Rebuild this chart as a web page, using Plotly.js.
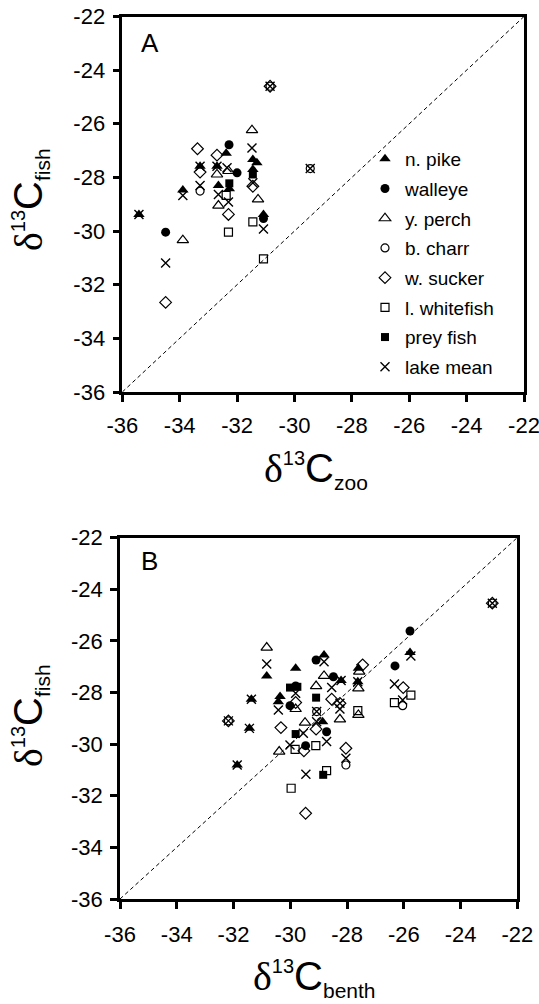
<!DOCTYPE html>
<html>
<head>
<meta charset="utf-8">
<script src="https://cdn.plot.ly/plotly-3.0.1.min.js"></script>
<style>
  html, body { margin: 0; padding: 0; background: #fff; }
  #chart { width: 539px; height: 1004px; }
</style>
</head>
<body>
<div id="chart"></div>
<script>
// ---------- tick labels ----------
const tickVals = [-36, -34, -32, -30, -28, -26, -24, -22];
const tickText = ['-36', '-34', '-32', '-30', '-28', '-26', '-24', '-22'];
const oneToOne = [-36, -22];

const seriesNames = ['n. pike', 'walleye', 'y. perch', 'b. charr', 'w. sucker', 'l. whitefish', 'prey fish', 'lake mean'];

// ---------- Panel A : d13C zoo vs d13C fish ----------
const pikeZooX = [-35.42, -33.89, -33.29, -32.70, -32.65, -32.38, -32.27, -31.45, -31.31, -31.45, -31.08];
const pikeZooY = [-29.38, -28.47, -27.58, -27.58, -28.30, -27.10, -28.42, -27.33, -27.45, -27.70, -29.38];
const walleyeZooX = [-34.49, -32.28, -32.00, -31.08];
const walleyeZooY = [-30.04, -26.78, -27.83, -29.53];
const perchZooX = [-33.89, -32.70, -32.65, -32.30, -31.48, -31.27];
const perchZooY = [-30.34, -27.89, -29.05, -27.76, -26.24, -28.82];
const charrZooX = [-33.29, -29.45, -30.85];
const charrZooY = [-28.51, -27.67, -24.60];
const suckerZooX = [-34.49, -33.38, -33.29, -32.70, -32.30, -31.45, -30.85];
const suckerZooY = [-32.66, -26.93, -27.80, -27.17, -29.38, -28.33, -24.60];
const whitefishZooX = [-32.38, -32.30, -31.45, -31.08];
const whitefishZooY = [-28.67, -30.04, -29.66, -31.04];
const preyZooX = [-32.27, -31.45];
const preyZooY = [-28.22, -27.89];
const meanZooX = [-35.42, -34.49, -33.89, -33.29, -33.29, -32.70, -32.65, -32.35, -32.30, -31.48, -31.45, -31.08, -29.45, -30.85];
const meanZooY = [-29.38, -31.19, -28.67, -27.58, -28.30, -27.58, -28.64, -27.64, -28.92, -26.90, -28.20, -29.92, -27.67, -24.60];

// ---------- Panel B : d13C benth vs d13C fish ----------
const pikeBenX = [-30.83, -29.81, -31.37, -30.36, -30.42, -31.44, -31.87, -28.81, -28.21, -27.60, -25.78, -28.86, -27.62];
const pikeBenY = [-27.36, -27.06, -28.26, -28.16, -28.36, -29.39, -30.81, -26.55, -27.54, -27.06, -26.45, -29.13, -27.58];
const walleyeBenX = [-29.81, -30.01, -29.09, -28.48, -25.78, -26.31, -28.72, -29.46];
const walleyeBenY = [-27.75, -28.51, -26.74, -27.39, -25.62, -26.97, -29.52, -30.06];
const perchBenX = [-30.83, -29.81, -29.48, -28.81, -29.09, -28.25, -27.57, -27.60, -27.60, -30.39];
const perchBenY = [-26.26, -28.64, -29.17, -27.36, -27.75, -29.04, -27.19, -27.84, -28.87, -30.29];
const charrBenX = [-26.04, -28.04, -32.18, -22.88, -29.07];
const charrBenY = [-28.51, -30.81, -29.10, -24.54, -28.74];
const suckerBenX = [-29.81, -30.33, -28.54, -27.45, -26.02, -29.09, -29.52, -29.46, -28.04, -32.18, -22.88, -28.25];
const suckerBenY = [-28.39, -29.36, -28.26, -26.93, -27.81, -29.42, -30.26, -32.68, -30.16, -29.10, -24.54, -28.42];
const whitefishBenX = [-27.62, -25.75, -26.33, -29.83, -29.10, -28.72, -29.97];
const whitefishBenY = [-28.70, -28.10, -28.39, -30.20, -30.06, -31.03, -31.71];
const preyBenX = [-30.01, -29.09, -29.81, -28.84, -29.75];
const preyBenY = [-27.81, -28.20, -29.61, -31.19, -27.78];
const meanBenX = [-30.83, -29.81, -31.37, -30.42, -31.44, -31.87, -28.81, -28.21, -28.54, -28.25, -25.75, -26.33, -26.04, -29.54, -28.72, -30.01, -29.45, -28.04, -27.62, -32.18, -22.88, -29.07, -29.07, -28.25];
const meanBenY = [-26.90, -28.03, -28.26, -28.68, -29.39, -30.81, -26.81, -27.54, -27.81, -28.64, -26.59, -27.67, -28.29, -29.58, -29.90, -30.03, -31.17, -30.55, -27.58, -29.10, -24.54, -28.74, -29.13, -28.42];

// ---------- marker styles ----------
const styles = [
  {symbol: 'triangle-up', size: 10, color: '#000', line: {width: 0}},
  {symbol: 'circle', size: 9, color: '#000', line: {width: 0}},
  {symbol: 'triangle-up-open', size: 10, color: '#000', line: {width: 1.2, color: '#000'}},
  {symbol: 'circle-open', size: 8, color: '#000', line: {width: 1.2, color: '#000'}},
  {symbol: 'diamond-open', size: 9, color: '#000', line: {width: 1.2, color: '#000'}},
  {symbol: 'square-open', size: 8, color: '#000', line: {width: 1.2, color: '#000'}},
  {symbol: 'square', size: 8, color: '#000', line: {width: 0}},
  {symbol: 'x-thin-open', size: 9, color: '#000', line: {width: 1.4, color: '#000'}}
];

const zooData = [
  [pikeZooX, pikeZooY], [walleyeZooX, walleyeZooY], [perchZooX, perchZooY], [charrZooX, charrZooY],
  [suckerZooX, suckerZooY], [whitefishZooX, whitefishZooY], [preyZooX, preyZooY], [meanZooX, meanZooY]
];
const benData = [
  [pikeBenX, pikeBenY], [walleyeBenX, walleyeBenY], [perchBenX, perchBenY], [charrBenX, charrBenY],
  [suckerBenX, suckerBenY], [whitefishBenX, whitefishBenY], [preyBenX, preyBenY], [meanBenX, meanBenY]
];

const traces = [];
// 1:1 lines
traces.push({x: oneToOne, y: oneToOne, xaxis: 'x', yaxis: 'y', mode: 'lines',
  line: {color: '#000', width: 1, dash: '4px,3px'}, showlegend: false, hoverinfo: 'skip'});
traces.push({x: oneToOne, y: oneToOne, xaxis: 'x2', yaxis: 'y2', mode: 'lines',
  line: {color: '#000', width: 1, dash: '4px,3px'}, showlegend: false, hoverinfo: 'skip'});

seriesNames.forEach((name, i) => {
  traces.push({x: zooData[i][0], y: zooData[i][1], xaxis: 'x', yaxis: 'y', mode: 'markers', type: 'scatter',
    name: name, legendgroup: 'g' + i, marker: styles[i], showlegend: true, cliponaxis: false});
  traces.push({x: benData[i][0], y: benData[i][1], xaxis: 'x2', yaxis: 'y2', mode: 'markers', type: 'scatter',
    name: name, legendgroup: 'g' + i, marker: styles[i], showlegend: false, cliponaxis: false});
});

const W = 539, H = 1004;
const px = v => v / W;
const py = v => 1 - v / H;

const axisBase = {
  range: [-36, -22], tickmode: 'array', tickvals: tickVals, ticktext: tickText,
  showline: true, linecolor: '#000', linewidth: 2.5, mirror: true,
  ticks: 'outside', ticklen: 7, tickwidth: 2.5, tickcolor: '#000',
  showgrid: false, zeroline: false, fixedrange: true, ticklabeloverflow: 'allow',
  tickfont: {family: 'Liberation Sans, Arial, sans-serif', size: 22, color: '#000'}
};

const font = 'Liberation Sans, Arial, sans-serif';
const titleText = sub => '<span style="font-family:\'Liberation Serif\'">δ</span><sup><span style="font-size:20px">13</span></sup>C<sub><span style="font-size:21px">' + sub + '</span></sub>';

const layout = {
  width: W, height: H,
  margin: {l: 0, r: 0, t: 0, b: 0},
  paper_bgcolor: '#fff', plot_bgcolor: '#fff',
  font: {family: font, color: '#000'},
  showlegend: true,
  legend: {
    x: px(365), y: py(140), xanchor: 'left', yanchor: 'top',
    font: {family: font, size: 19, color: '#000'},
    bgcolor: 'rgba(0,0,0,0)', borderwidth: 0, tracegroupgap: 2,
    itemclick: false, itemdoubleclick: false
  },
  xaxis: Object.assign({}, axisBase, {domain: [px(122.3), px(524)], anchor: 'y', ticklabelstandoff: 5}),
  yaxis: Object.assign({}, axisBase, {domain: [py(392), py(16.5)], anchor: 'x', ticklabelstandoff: 3}),
  xaxis2: Object.assign({}, axisBase, {domain: [px(120), px(517.3)], anchor: 'y2', ticklabelstandoff: 7}),
  yaxis2: Object.assign({}, axisBase, {domain: [py(899), py(537.6)], anchor: 'x2', ticklabelstandoff: 3}),
  annotations: [
    {text: 'A', xref: 'paper', yref: 'paper', x: px(139), y: py(43), xanchor: 'left', yanchor: 'middle',
      showarrow: false, font: {family: font, size: 26, color: '#000'}},
    {text: 'B', xref: 'paper', yref: 'paper', x: px(139), y: py(561), xanchor: 'left', yanchor: 'middle',
      showarrow: false, font: {family: font, size: 26, color: '#000'}},
    {text: titleText('zoo'), xref: 'paper', yref: 'paper', x: px(316), y: py(470), xanchor: 'center', yanchor: 'middle',
      showarrow: false, font: {family: font, size: 40, color: '#000'}},
    {text: titleText('benth'), xref: 'paper', yref: 'paper', x: px(314), y: py(978), xanchor: 'center', yanchor: 'middle',
      showarrow: false, font: {family: font, size: 40, color: '#000'}},
    {text: titleText('fish'), xref: 'paper', yref: 'paper', x: px(30), y: py(200), xanchor: 'center', yanchor: 'middle',
      textangle: -90, showarrow: false, font: {family: font, size: 40, color: '#000'}},
    {text: titleText('fish'), xref: 'paper', yref: 'paper', x: px(30), y: py(716), xanchor: 'center', yanchor: 'middle',
      textangle: -90, showarrow: false, font: {family: font, size: 40, color: '#000'}}
  ]
};

Plotly.newPlot('chart', traces, layout, {displayModeBar: false, staticPlot: false});
</script>
</body>
</html>
